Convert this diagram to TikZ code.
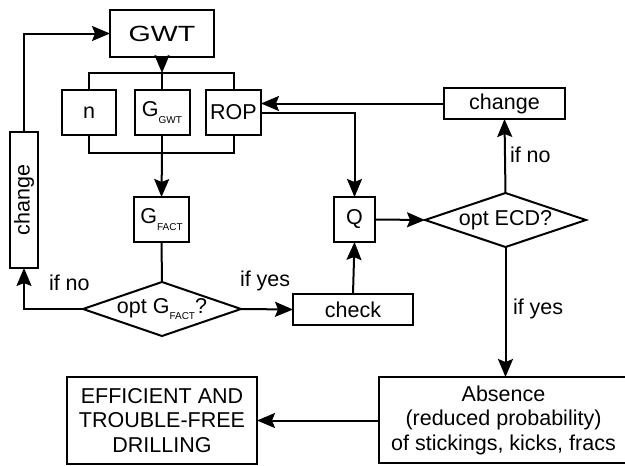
\documentclass[tikz,border=0pt]{standalone}
\usepackage{fontspec}
\setmainfont{Liberation Sans}
\usetikzlibrary{arrows.meta,shapes.geometric}
\newcommand{\sbs}[1]{\raisebox{-0.32em}{\fontsize{10}{10}\selectfont #1}}
\begin{document}
\begin{tikzpicture}[x=1pt,y=-1pt,line width=2pt,
  txt/.style={font=\fontsize{21.5}{24.5}\selectfont},
  box/.style={draw,rectangle,inner sep=0pt,outer sep=0pt,align=center,txt},
  dia/.style={draw,diamond,inner sep=0pt,outer sep=0pt,txt},
  arr/.style={-{Stealth[length=18pt,width=15pt,inset=3pt]}},
  lbl/.style={txt,inner sep=0pt,anchor=west}]
\useasboundingbox (0,0) rectangle (625,466);
% nodes
\node[box,minimum width=104pt,minimum height=47pt] (gwt) at (162,33.5) {\scalebox{1.3}[1]{\fontsize{22}{24}\selectfont GWT}};
\node[box,minimum width=54pt,minimum height=45pt] (n) at (89,112.5) {n};
\node[box,minimum width=55pt,minimum height=45pt] (ggwt) at (162,112.5) {G\sbs{GWT}};
\node[box,minimum width=55pt,minimum height=45pt] (rop) at (233.5,112.5) {ROP};
\node[box,minimum width=55pt,minimum height=45pt] (gfact) at (161.5,219.5) {G\sbs{FACT}};
\node[dia,minimum width=158pt,minimum height=54pt] (dg) at (162,309) {\makebox[0pt]{opt G\sbs{FACT}?}};
\node[box,minimum width=28pt,minimum height=136pt] (chl) at (24,200) {\rotatebox{90}{change}};
\node[box,minimum width=120pt,minimum height=31pt] (check) at (353,309.5) {check};
\node[box,minimum width=41pt,minimum height=45pt] (q) at (354.5,219.5) {Q};
\node[dia,minimum width=161pt,minimum height=54pt] (de) at (505.5,220) {\makebox[0pt]{opt ECD?}};
\node[box,minimum width=121pt,minimum height=31pt] (chr) at (504.5,103.5) {change};
\node[box,minimum width=249pt,minimum height=86pt] (abs) at (503.5,420) {Absence\\(reduced probability)\\of stickings, kicks, fracs};
\node[box,minimum width=190pt,minimum height=87pt] (eff) at (162,420.5) {EFFICIENT AND\\TROUBLE-FREE\\DRILLING};
% helper coordinates
\coordinate (bt) at (162,73);
\coordinate (bb) at (162,153);
% brackets
\draw (n.north) -- ++(0,-17) -| (rop.north);
\draw (ggwt.north) -- (bt);
\draw (n.south) -- ++(0,18) -| (rop.south);
\draw (ggwt.south) -- (bb);
% connectors
\draw[arr] (chl.north) |- (gwt.west);
\draw[arr] (gwt.south) -- (bt);
\draw[arr] (bb) -- (gfact.north);
\draw (gfact.south) -- (dg.north);
\draw[arr] (dg.west) -| (chl.south);
\draw[arr] (dg.east) -- (check.west);
\draw[arr] (check.north) -- (q.south);
\draw[arr] (rop.east) -| (q.north);
\draw[arr] (chr.west) -- (chr.west -| rop.east);
\draw[arr] (q.east) -- (de.west);
\draw[arr] (de.north) -- (chr.south);
\draw[arr] (de.south) -- (abs.north -| de.south);
\draw[arr] (abs.west |- eff.east) -- (eff.east);
% labels
\node[lbl] (l1) at (48,283) {if no};
\node[lbl] (l2) at (239,281) {if yes};
\node[lbl] (l3) at (509,155) {if no};
\node[lbl] (l4) at (512,309) {if yes};
\end{tikzpicture}
\end{document}
